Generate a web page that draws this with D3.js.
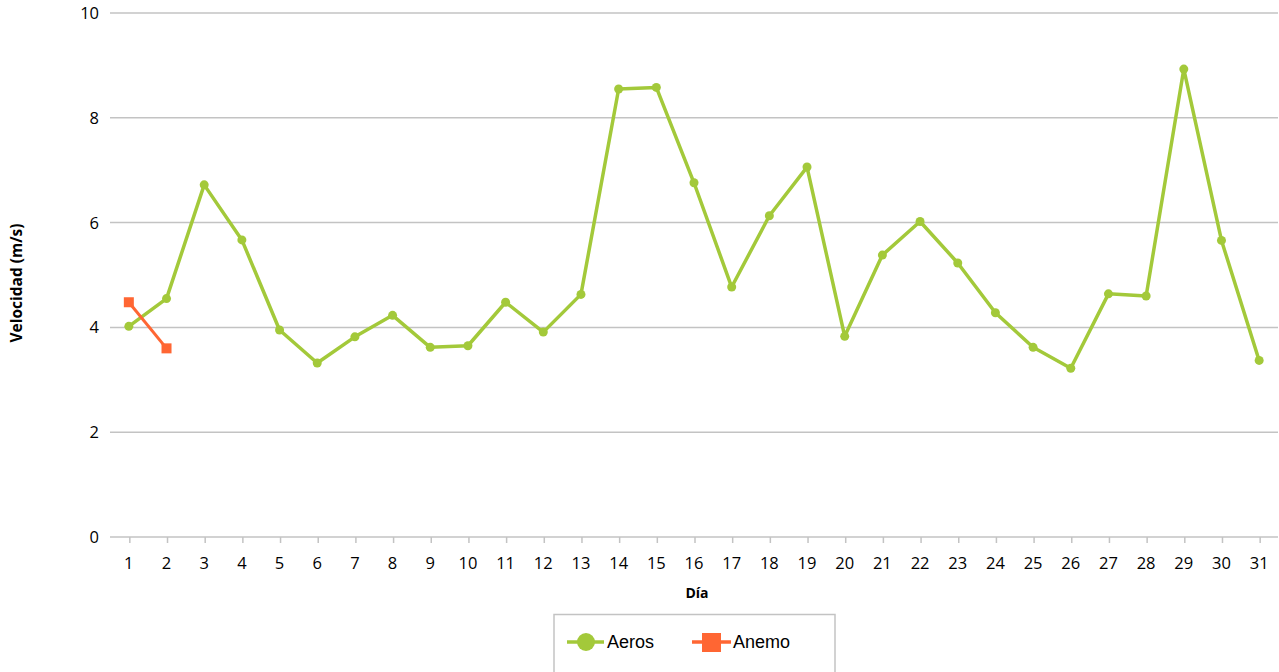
<!DOCTYPE html>
<html><head><meta charset="utf-8">
<script src="https://cdn.jsdelivr.net/npm/d3@7"></script>
<style>body{margin:0;background:#fff;}svg{display:block;}</style>
</head><body>
<svg id="c" width="1279" height="672"></svg>
<script>
const days = d3.range(1, 32).map(String);
const aeros = [4.02,4.55,6.72,5.67,3.95,3.32,3.82,4.23,3.62,3.65,4.48,3.91,4.63,8.55,8.58,6.76,4.77,6.13,7.06,3.83,5.38,6.02,5.23,4.28,3.62,3.22,4.64,4.60,8.93,5.66,3.37];
const anemo = [4.48,3.60];
const yTicks = [0,2,4,6,8,10];
const seriesNames = ["Aeros","Anemo"];
const colors = ["#a3c93a","#ff6633"];

const svg = d3.select("#c");
const L = 110, R = 1278, T = 13, B = 537;
const x = d3.scaleBand().domain(days).range([L, R]);
const y = d3.scaleLinear().domain([0,10]).range([B, T]);
const tickFont = "'Open Sans', sans-serif";

svg.append("g").selectAll("line").data(yTicks).join("line")
  .attr("x1", L).attr("x2", R).attr("y1", d=>y(d)).attr("y2", d=>y(d))
  .attr("stroke", "#c3c3c3").attr("stroke-width", 1.5);

svg.append("g").selectAll("text").data(yTicks).join("text")
  .attr("x", 99).attr("y", d=>y(d)).attr("dy","0.36em").attr("text-anchor","end")
  .attr("font-family", tickFont).attr("font-size", 16.5).attr("fill","#000").text(d=>d);

svg.append("g").selectAll("line").data(days).join("line")
  .attr("x1", d=>x(d)+x.bandwidth()/2+1).attr("x2", d=>x(d)+x.bandwidth()/2+1)
  .attr("y1", B).attr("y2", B+6).attr("stroke","#c3c3c3").attr("stroke-width",1.5);
svg.append("g").selectAll("text").data(days).join("text")
  .attr("x", d=>x(d)+x.bandwidth()/2).attr("y", 563).attr("dy","0.36em").attr("text-anchor","middle")
  .attr("font-family", tickFont).attr("font-size", 16.5).attr("fill","#000").text(d=>d);

svg.append("text").attr("x", 697).attr("y", 598).attr("text-anchor","middle")
  .attr("font-family", tickFont).attr("font-weight","bold").attr("font-size",14).text("Día");
svg.append("text").attr("transform","translate(22,283) rotate(-90)").attr("text-anchor","middle")
  .attr("font-family", tickFont).attr("font-weight","bold").attr("font-size",15.5).text("Velocidad (m/s)");

const line = d3.line().x((d,i)=>x(days[i])+x.bandwidth()/2).y(d=>y(d));

svg.append("path").datum(aeros).attr("d", line).attr("fill","none")
  .attr("stroke", colors[0]).attr("stroke-width", 3.5).attr("stroke-linejoin","round");
svg.append("g").selectAll("circle").data(aeros).join("circle")
  .attr("cx",(d,i)=>x(days[i])+x.bandwidth()/2).attr("cy",d=>y(d)).attr("r",4.5).attr("fill",colors[0]);

svg.append("path").datum(anemo).attr("d", line).attr("fill","none")
  .attr("stroke", colors[1]).attr("stroke-width", 3);
svg.append("g").selectAll("rect").data(anemo).join("rect")
  .attr("x",(d,i)=>x(days[i])+x.bandwidth()/2-5).attr("y",d=>y(d)-5).attr("width",10).attr("height",10).attr("fill",colors[1]);

const lg = svg.append("g");
lg.append("rect").attr("x",554).attr("y",614.5).attr("width",281).attr("height",70)
  .attr("fill","#fff").attr("stroke","#c3c3c3").attr("stroke-width",1.5);
const lf = "'Liberation Sans', Arial, sans-serif";
lg.append("line").attr("x1",567).attr("x2",604).attr("y1",642).attr("y2",642).attr("stroke",colors[0]).attr("stroke-width",3.5);
lg.append("circle").attr("cx",586).attr("cy",642).attr("r",9).attr("fill",colors[0]);
lg.append("text").attr("x",607).attr("y",642).attr("dy","0.36em").attr("font-family",lf).attr("font-size",18).text(seriesNames[0]);
lg.append("line").attr("x1",692).attr("x2",731).attr("y1",642).attr("y2",642).attr("stroke",colors[1]).attr("stroke-width",3.5);
lg.append("rect").attr("x",702).attr("y",633).attr("width",19).attr("height",19).attr("fill",colors[1]);
lg.append("text").attr("x",733).attr("y",642).attr("dy","0.36em").attr("font-family",lf).attr("font-size",18).text(seriesNames[1]);
</script>
</body></html>
